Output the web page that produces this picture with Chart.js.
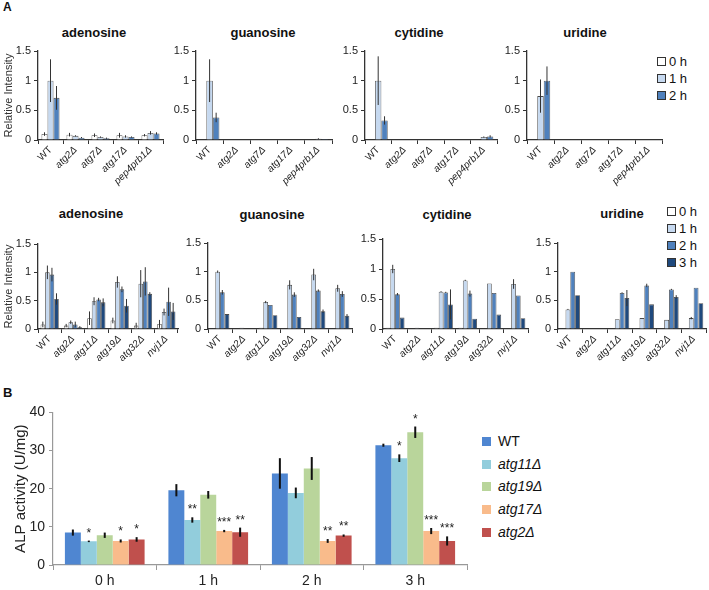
<!DOCTYPE html>
<html>
<head>
<meta charset="utf-8">
<script src="https://cdn.jsdelivr.net/npm/chart.js@4.4.0/dist/chart.umd.min.js"></script>
<style>
body { margin:0; background:#fff; width:709px; height:590px; position:relative; overflow:hidden; font-family:"Liberation Sans", Arial, sans-serif; color:#111; }
canvas { position:absolute; }
.t { position:absolute; white-space:nowrap; }
.ttl { position:absolute; font-weight:bold; font-size:13px; transform:translate(-50%,-50%); white-space:nowrap; }
.leg { position:absolute; font-size:13px; white-space:nowrap; line-height:17px; }
.leg i.sq { display:inline-block; width:7px; height:7px; border:1px solid #333; margin-right:3px; vertical-align:0px; }
.legB { position:absolute; font-size:14px; white-space:nowrap; line-height:22.7px; }
.legB i.sq { display:inline-block; width:9px; height:9px; margin-right:7px; vertical-align:0px; }
</style>
</head>
<body>
<div class="t" style="left:3px;top:0px;font-size:12px;font-weight:bold">A</div>
<div class="t" style="left:3px;top:385px;font-size:13px;font-weight:bold">B</div>

<div class="ttl" style="left:94px;top:32px">adenosine</div>
<div class="ttl" style="left:263px;top:32px">guanosine</div>
<div class="ttl" style="left:419px;top:32px">cytidine</div>
<div class="ttl" style="left:585px;top:32px">uridine</div>
<div class="ttl" style="left:91px;top:213px">adenosine</div>
<div class="ttl" style="left:272px;top:214px">guanosine</div>
<div class="ttl" style="left:447px;top:214px">cytidine</div>
<div class="ttl" style="left:622px;top:213px">uridine</div>

<div class="leg" style="left:657px;top:53px">
<div><i class="sq" style="background:#ffffff"></i>0 h</div>
<div><i class="sq" style="background:#c6d9f0"></i>1 h</div>
<div><i class="sq" style="background:#4f81bd"></i>2 h</div>
</div>
<div class="leg" style="left:667px;top:203px">
<div><i class="sq" style="background:#ffffff"></i>0 h</div>
<div><i class="sq" style="background:#c6d9f0"></i>1 h</div>
<div><i class="sq" style="background:#4f81bd"></i>2 h</div>
<div><i class="sq" style="background:#1f497d"></i>3 h</div>
</div>

<div class="legB" style="left:482px;top:430px">
<div><i class="sq" style="background:#4f86d1"></i>WT</div>
<div><i class="sq" style="background:#92cddc"></i><em>atg11Δ</em></div>
<div><i class="sq" style="background:#b9d59b"></i><em>atg19Δ</em></div>
<div><i class="sq" style="background:#f9bb8b"></i><em>atg17Δ</em></div>
<div><i class="sq" style="background:#c0504d"></i><em>atg2Δ</em></div>
</div>

<canvas id="c1"></canvas>
<canvas id="c2"></canvas>
<canvas id="c3"></canvas>
<canvas id="c4"></canvas>
<canvas id="c5"></canvas>
<canvas id="c6"></canvas>
<canvas id="c7"></canvas>
<canvas id="c8"></canvas>
<canvas id="cB"></canvas>

<script>
// ---- panel A, top row (0 h, 1 h, 2 h) ----
const hoursTop = ['0 h', '1 h', '2 h'];
const strainsTop = ['WT', 'atg2Δ', 'atg7Δ', 'atg17Δ', 'pep4prb1Δ'];

const adenosineTop = [[0.10, 0.09, 0.08, 0.08, 0.08], [1.00, 0.07, 0.05, 0.06, 0.12], [0.71, 0.04, 0.03, 0.05, 0.11]];
const adenosineTopErr = [[0.03, 0.03, 0.03, 0.04, 0.02], [0.36, 0.01, 0.01, 0.02, 0.03], [0.20, 0.01, 0.01, 0.01, 0.02]];
const guanosineTop = [[0.01, 0.01, 0.005, 0.005, 0.01], [1.00, 0.01, 0.01, 0.01, 0.02], [0.38, 0.01, 0.01, 0.005, 0.015]];
const guanosineTopErr = [[0, 0, 0, 0, 0], [0.36, 0, 0, 0, 0.01], [0.08, 0, 0, 0, 0]];
const cytidineTop = [[0.01, 0.01, 0.01, 0.01, 0.01], [1.00, 0.01, 0.01, 0.01, 0.05], [0.33, 0.01, 0.005, 0.01, 0.06]];
const cytidineTopErr = [[0, 0, 0, 0, 0], [0.41, 0, 0, 0, 0.01], [0.07, 0, 0, 0, 0.02]];
const uridineTop = [[0, 0, 0, 0, 0], [0.74, 0.01, 0.005, 0.01, 0.01], [1.00, 0.005, 0.01, 0.01, 0.01]];
const uridineTopErr = [[0, 0, 0, 0, 0], [0.28, 0, 0, 0, 0], [0.24, 0, 0, 0, 0]];

// ---- panel A, second row (0 h .. 3 h) ----
const hoursBottom = ['0 h', '1 h', '2 h', '3 h'];
const strainsBottom = ['WT', 'atg2Δ', 'atg11Δ', 'atg19Δ', 'atg32Δ', 'nvj1Δ'];

const adenosineBot = [[0.08, 0.06, 0.19, 0.15, 0.06, 0.09], [1.00, 0.12, 0.49, 0.83, 0.80, 0.30], [0.96, 0.08, 0.52, 0.70, 0.84, 0.48], [0.53, 0.03, 0.47, 0.41, 0.62, 0.31]];
const adenosineBotErr = [[0.05, 0.03, 0.12, 0.05, 0.05, 0.07], [0.12, 0.03, 0.07, 0.10, 0.24, 0.06], [0.12, 0.05, 0.03, 0.05, 0.25, 0.25], [0.10, 0.02, 0.07, 0.12, 0.03, 0.15]];
const guanosineBot = [[0.01, 0.01, 0.02, 0.01, 0.01, 0.01], [1.00, 0.02, 0.47, 0.77, 0.95, 0.71], [0.64, 0.01, 0.42, 0.60, 0.67, 0.61], [0.26, 0.005, 0.24, 0.21, 0.31, 0.23]];
const guanosineBotErr = [[0, 0, 0, 0, 0, 0], [0.02, 0, 0.02, 0.08, 0.10, 0.06], [0.04, 0, 0, 0.04, 0.02, 0.05], [0, 0, 0, 0, 0.03, 0.03]];
const cytidineBot = [[0.02, 0.01, 0.02, 0.02, 0.01, 0.01], [1.00, 0.02, 0.62, 0.81, 0.76, 0.75], [0.58, 0.01, 0.61, 0.59, 0.60, 0.56], [0.19, 0.01, 0.41, 0.17, 0.24, 0.18]];
const cytidineBotErr = [[0, 0, 0, 0, 0, 0], [0.07, 0, 0.01, 0.01, 0, 0.08], [0.02, 0, 0.01, 0.05, 0, 0], [0, 0, 0.25, 0, 0, 0]];
const uridineBot = [[0, 0, 0, 0, 0, 0], [0.34, 0, 0.17, 0.19, 0.16, 0.19], [1.00, 0.005, 0.63, 0.76, 0.69, 0.72], [0.59, 0.005, 0.54, 0.43, 0.56, 0.45]];
const uridineBotErr = [[0, 0, 0, 0, 0, 0], [0.01, 0, 0, 0, 0, 0.02], [0, 0, 0.01, 0.03, 0.01, 0], [0, 0, 0.14, 0, 0.03, 0]];

// ---- panel B ----
const timesB = ['0 h', '1 h', '2 h', '3 h'];
const strainsB = ['WT', 'atg11Δ', 'atg19Δ', 'atg17Δ', 'atg2Δ'];
const alpWT = [8.5, 19.6, 24.0, 31.4];
const alpAtg11 = [6.2, 11.8, 18.9, 28.0];
const alpAtg19 = [7.8, 18.4, 25.3, 34.8];
const alpAtg17 = [6.3, 8.9, 6.3, 8.9];
const alpAtg2 = [6.7, 8.6, 7.7, 6.3];
const errWT = [0.8, 1.6, 4.0, 0.4];
const errAtg11 = [0.2, 0.7, 1.4, 1.0];
const errAtg19 = [0.7, 1.0, 3.0, 1.5];
const errAtg17 = [0.4, 0.3, 0.5, 0.8];
const errAtg2 = [0.6, 1.2, 0.3, 1.2];
const starsWT = ['', '', '', ''];
const starsAtg11 = ['*', '**', '', '*'];
const starsAtg19 = ['', '', '', '*'];
const starsAtg17 = ['*', '***', '**', '***'];
const starsAtg2 = ['*', '**', '**', '***'];

const FONT = '"Liberation Sans", Arial, sans-serif';
const hourColors = ['#ffffff', '#c6d9f0', '#4f81bd', '#1f497d'];

function errorBars(color, width) {
  return {
    id: 'errorBars',
    afterDatasetsDraw(chart) {
      const ctx = chart.ctx;
      const y = chart.scales.y;
      ctx.save();
      ctx.strokeStyle = color;
      ctx.fillStyle = '#222';
      ctx.lineWidth = width;
      ctx.font = '12px ' + FONT;
      ctx.textAlign = 'center';
      ctx.textBaseline = 'alphabetic';
      chart.data.datasets.forEach((ds, i) => {
        chart.getDatasetMeta(i).data.forEach((bar, j) => {
          const v = ds.data[j], e = ds.errors[j];
          if (e) {
            ctx.beginPath();
            ctx.moveTo(bar.x, y.getPixelForValue(v - e));
            ctx.lineTo(bar.x, y.getPixelForValue(v + e));
            ctx.stroke();
          }
          if (ds.stars && ds.stars[j]) {
            ctx.fillText(ds.stars[j], bar.x, y.getPixelForValue(v + e) - 4);
          }
        });
      });
      ctx.restore();
    }
  };
}

function place(id, left, top, w, h) {
  const c = document.getElementById(id);
  c.width = w; c.height = h;
  c.style.left = left + 'px'; c.style.top = top + 'px';
  c.style.width = w + 'px'; c.style.height = h + 'px';
  return c;
}

function smallChart(id, left, top, w, h, yW, labels, hours, values, errs, catPct, yTitle) {
  const c = place(id, left, top, w, h);
  new Chart(c, {
    type: 'bar',
    data: {
      labels: labels,
      datasets: values.map((v, i) => ({
        label: hours[i],
        data: v,
        errors: errs[i],
        backgroundColor: hourColors[i],
        borderColor: '#4a4a4a',
        borderWidth: 0.8,
        categoryPercentage: catPct,
        barPercentage: 1
      }))
    },
    options: {
      responsive: false,
      animation: false,
      layout: { padding: { top: 10, right: 4, left: 0, bottom: 0 } },
      plugins: { legend: { display: false }, tooltip: { enabled: false } },
      scales: {
        x: {
          grid: { offset: true, drawOnChartArea: false, tickLength: 4, color: '#333' },
          border: { color: '#333', width: 1.3 },
          ticks: {
            minRotation: 45, maxRotation: 45, padding: 0, color: '#222',
            font: (ctx) => ({ family: FONT, size: 10, style: ctx.index === 0 ? 'normal' : 'italic' })
          },
          afterFit: (s) => { s.height = 50; }
        },
        y: {
          min: 0, max: 1.5,
          ticks: { stepSize: 0.5, callback: (v) => String(v), color: '#222', padding: 3, font: { family: FONT, size: 11 } },
          grid: { drawOnChartArea: false, tickLength: 4, color: '#333' },
          border: { color: '#333', width: 1.3 },
          title: { display: !!yTitle, text: yTitle || '', color: '#333', padding: { top: 2 }, font: { family: FONT, size: 11 } },
          afterFit: (s) => { s.width = yW; }
        }
      }
    },
    plugins: [errorBars('#333', 1)]
  });
}

smallChart('c1', 0, 41, 167, 149, 38, strainsTop, hoursTop, adenosineTop, adenosineTopErr, 0.72, 'Relative Intensity');
smallChart('c2', 168, 41, 168, 149, 28, strainsTop, hoursTop, guanosineTop, guanosineTopErr, 0.72);
smallChart('c3', 337, 41, 164, 149, 28, strainsTop, hoursTop, cytidineTop, cytidineTopErr, 0.72);
smallChart('c4', 499, 41, 167, 149, 28, strainsTop, hoursTop, uridineTop, uridineTopErr, 0.72);

smallChart('c5', 0, 234, 182, 145, 38, strainsBottom, hoursBottom, adenosineBot, adenosineBotErr, 0.78, 'Relative Intensity');
smallChart('c6', 180, 233, 176, 146, 28, strainsBottom, hoursBottom, guanosineBot, guanosineBotErr, 0.78);
smallChart('c7', 355, 229, 177, 150, 28, strainsBottom, hoursBottom, cytidineBot, cytidineBotErr, 0.78);
smallChart('c8', 530, 233, 180, 146, 28, strainsBottom, hoursBottom, uridineBot, uridineBotErr, 0.78);

// ---- panel B chart ----
const cB = place('cB', 0, 400, 471, 190);
const colorsB = ['#4f86d1', '#92cddc', '#b9d59b', '#f9bb8b', '#c0504d'];
const valuesB = [alpWT, alpAtg11, alpAtg19, alpAtg17, alpAtg2];
const errorsB = [errWT, errAtg11, errAtg19, errAtg17, errAtg2];
const starsB = [starsWT, starsAtg11, starsAtg19, starsAtg17, starsAtg2];

new Chart(cB, {
  type: 'bar',
  data: {
    labels: timesB,
    datasets: strainsB.map((s, i) => ({
      label: s,
      data: valuesB[i],
      errors: errorsB[i],
      stars: starsB[i],
      backgroundColor: colorsB[i],
      borderWidth: 0,
      categoryPercentage: 0.77,
      barPercentage: 1
    }))
  },
  options: {
    responsive: false,
    animation: false,
    layout: { padding: { top: 12, right: 4, left: 0, bottom: 0 } },
    plugins: { legend: { display: false }, tooltip: { enabled: false } },
    scales: {
      x: {
        grid: { offset: true, drawOnChartArea: false, tickLength: 5, color: '#999' },
        border: { color: '#999', width: 1.2 },
        ticks: { color: '#222', padding: 3, font: { family: FONT, size: 14 } },
        afterFit: (s) => { s.height = 25; }
      },
      y: {
        min: 0, max: 40,
        ticks: { stepSize: 10, color: '#222', padding: 4, font: { family: FONT, size: 14 } },
        grid: { drawOnChartArea: false, tickLength: 4, color: '#999' },
        border: { color: '#999', width: 1.2 },
        title: { display: true, text: 'ALP activity (U/mg)', color: '#222', padding: { top: 12 }, font: { family: FONT, size: 15 } },
        afterFit: (s) => { s.width = 53; }
      }
    }
  },
  plugins: [errorBars('#111', 2)]
});
</script>
</body>
</html>
